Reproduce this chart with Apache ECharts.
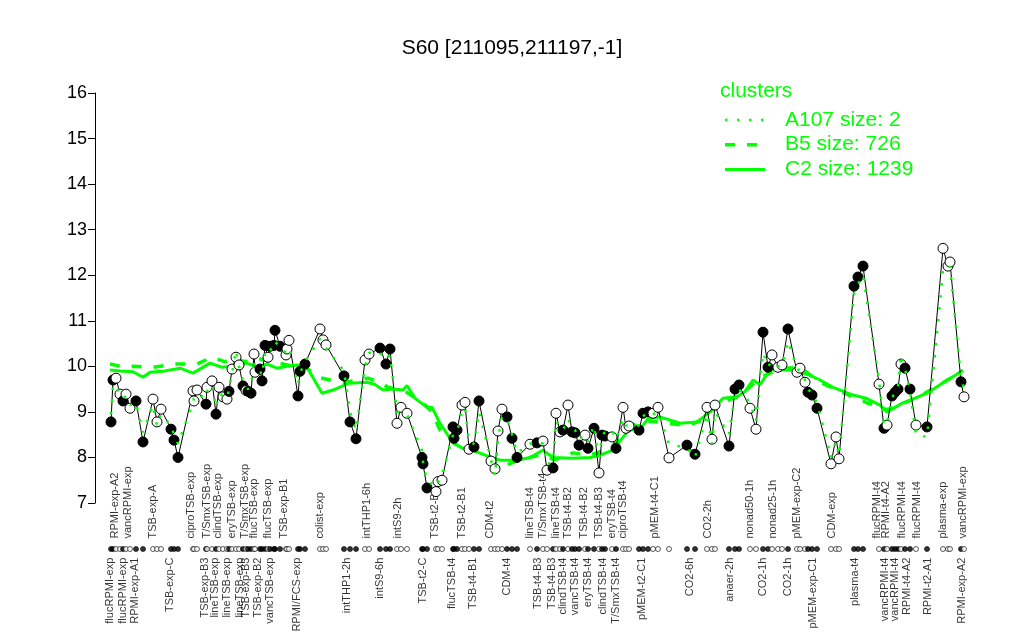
<!DOCTYPE html>
<html><head><meta charset="utf-8">
<script src="https://cdn.jsdelivr.net/npm/echarts@6/dist/echarts.min.js"></script>
<style>html,body{margin:0;padding:0;background:#fff}#c{width:1024px;height:640px}</style>
</head><body><div id="c"></div>
<script>
// sample positions along the x axis (ordered), expression values, fill (1 = filled)
const samplePos = [6.4,7.2,8.4,10,11.2,12.4,14,16.4,19.2,23.2,
24.8,26.4,30.4,31.6,33.2,39.2,39.6,40.8,44.4,44.8,
46.8,48.4,49.6,51.2,52.8,53.6,54.8,56.4,57.6,59.2,
60.4,61.2,62.4,63.6,64,66,66.8,68,69.2,70,
71.6,72,74,76.4,76.8,77.6,81.2,82,84,90,
91.2,92.4,99.6,102,104.4,108,109.6,114,116.4,118,
120.8,122.4,124.8,130.8,131.2,132.8,136.4,137.2,138.8,143.2,
143.6,144.8,146.8,148,149.6,151.6,153.6,158.4,160,161.2,
162.8,164.8,166.8,168.8,174,176.8,179.2,180.8,183.2,184.4,
186,187.2,189.2,190.8,192,193.6,196,197.2,199.6,201.6,
202.8,204,206.8,208.4,211.2,212.4,213.6,217.6,219.2,221.2,
223.2,225.2,229.6,236.8,240,244.8,246.8,248,253.6,256,
257.6,262,264.4,267.2,269.2,270.8,273.2,274.8,277.2,280.8,
282,284,285.2,286.8,288.8,294.4,296.4,297.6,303.6,305.2,
307.2,313.6,315.6,316.8,318.8,320,321.2,322.4,324,326,
328.4,332.8,339.2,341.2,342,346.4,347.6];
const sampleVal = [8.78,9.70,9.74,9.39,9.24,9.39,9.08,9.24,8.34,9.28,
8.78,9.06,8.62,8.38,8.0,9.46,9.24,9.48,9.17,9.54,
9.68,8.95,9.54,9.33,9.28,9.45,9.94,10.2,10.03,9.57,
9.47,9.45,9.41,10.27,9.87,9.94,9.68,10.46,10.2,10.44,
10.46,10.79,10.44,10.25,10.38,10.57,9.35,9.89,10.05,10.82,
10.58,10.47,9.79,8.78,8.41,10.14,10.27,10.40,10.05,10.38,
8.75,9.10,8.97,8.0,7.86,7.33,7.25,7.47,7.5,8.67,
8.42,8.6,9.15,9.21,8.18,8.23,9.24,7.92,7.75,8.58,
9.06,8.89,8.42,8.0,8.29,8.32,8.36,7.72,7.77,8.97,
8.56,8.6,9.15,8.56,8.54,8.27,8.49,8.2,8.64,7.66,
8.49,8.47,8.45,8.2,9.1,8.64,8.69,8.6,8.97,9.0,
8.97,9.1,7.99,8.27,8.07,9.1,8.4,9.15,8.25,9.5,
9.59,9.08,8.62,10.75,9.98,10.25,9.98,10.03,10.82,9.87,
9.96,9.65,9.43,9.37,9.08,7.86,8.45,7.97,11.76,11.96,
12.2,9.61,8.64,8.71,9.35,9.43,9.5,10.05,9.96,9.5,
8.71,8.67,12.59,12.2,12.29,9.66,9.33];
const sampleFilled = [1,1,0,0,1,0,0,1,1,0,
0,0,1,1,1,0,0,0,1,0,
0,1,0,0,0,1,0,0,0,1,
0,1,1,0,0,1,1,1,0,1,
1,1,1,0,0,0,1,1,1,0,
0,0,1,1,1,0,0,1,1,1,
0,0,0,1,1,1,0,0,0,1,
1,1,0,0,0,1,1,0,0,0,
0,1,1,1,0,1,0,0,1,0,
0,1,0,1,1,1,0,1,1,0,
1,1,0,1,0,0,0,1,1,1,
0,0,0,1,1,0,0,0,1,1,
1,0,0,1,1,0,0,0,1,0,
0,0,1,1,1,0,0,0,1,1,
1,0,1,0,1,1,1,0,1,1,
0,1,0,0,0,1,0];
// cluster A107 mean profile (dotted)
const a107Val = [8.95,9.6,9.55,9.4,9.3,9.35,9.15,9.2,8.55,9.15,
8.7,8.95,8.7,8.5,8.3,9.2,9.3,9.4,9.3,9.45,
9.6,9.1,9.4,9.35,9.3,9.5,9.85,10.35,10.0,9.7,
9.55,9.5,9.55,10.15,9.95,9.9,9.8,10.3,10.25,10.35,
10.45,10.55,10.4,10.3,10.35,10.4,9.6,9.85,10.1,10.6,
10.45,10.4,9.9,9.0,8.6,10.0,10.3,10.3,10.15,10.25,
9.0,9.0,8.95,8.15,7.9,7.5,7.35,7.45,7.6,8.5,
8.5,8.55,9.0,9.1,8.35,8.3,9.0,7.95,7.6,8.4,
8.9,8.85,8.5,8.1,8.3,8.35,8.3,7.85,7.9,8.8,
8.65,8.6,8.85,8.65,8.6,8.4,8.5,8.35,8.7,7.9,
8.5,8.55,8.6,8.4,8.85,8.7,8.7,8.7,8.9,9.0,
8.95,9.0,8.3,8.2,8.0,8.95,8.3,9.0,8.5,9.4,
9.5,9.2,8.8,10.3,10.0,10.1,10.0,10.0,10.55,9.95,
9.9,9.7,9.5,9.4,9.2,8.0,8.35,8.05,11.6,11.8,
12.0,9.7,8.7,8.75,9.3,9.45,9.55,10.25,9.95,9.45,
8.5,8.45,12.1,12.1,12.2,9.75,9.5];
// cluster C2 mean profile (solid)
const c2Pos = [6,10,15.2,19.2,22,28,34,39.2,46,50.8,54,60.8,64.8,68.8,72.8,76.8,80.8,84.8,90.8,95.2,101.6,108.8,112,115.2,119,123.2,124.8,128,132.8,134.8,138,143.2,147.2,151.2,156,162,168.8,174,179.2,183.2,191.2,198,202,207.2,212,215.2,218,221.2,226,234,240.8,246,251.2,256.8,260,263.2,266,270,279.2,286,290,295.2,303.2,308.4,314,316.8,320,323.2,328,332.8,336.8,340.8,344,347.2];
const c2Val = [9.92,9.9,9.88,9.76,9.87,9.9,9.96,9.85,10.07,9.98,10.0,10.07,9.98,10.05,9.96,10.0,10.03,9.98,9.41,9.48,9.63,9.65,9.6,9.48,9.5,9.48,9.58,9.3,9.1,9.1,8.75,8.32,8.2,8.16,8.05,7.94,7.94,8.0,8.16,8.0,7.98,8.0,8.05,8.16,8.5,8.75,8.62,8.85,8.89,8.75,8.78,9.0,9.3,9.33,9.45,9.7,9.6,9.92,9.92,9.8,9.7,9.54,9.37,9.3,9.15,9.0,9.1,9.2,9.3,9.41,9.55,9.7,9.8,9.92];
// cluster B5 mean profile (dashed)
const b5Pos = [6,12,15.2,23.2,32,40.8,46.8,52,55.2,60,64.8,70,75.2,79.2,84.8,90,94,100,109.2,114,117.2,124,131.2,134.8,138,144,147.2,152,158,163.2,170,178,184,191.2,198,206,214,222,236.8,242,250,258,266,274,282,290,298,308.8,316.8,322,330,338,347.2];
const b5Val = [10.05,9.98,10.0,9.98,10.05,10.05,10.2,10.1,10.18,10.1,10.18,10.1,10.05,10.0,9.95,9.75,9.7,9.65,9.74,9.65,9.54,9.45,9.2,9.0,8.6,8.3,8.23,8.15,7.94,7.8,7.95,8.05,7.95,8.1,8.05,8.2,8.6,8.8,8.7,8.8,9.2,9.35,9.75,9.95,9.98,9.65,9.45,9.2,9.05,9.15,9.35,9.6,9.9];
// sample labels above and below the sample row
const topLabels = ["RPMI-exp-A2","vancRPMI-exp","TSB-exp-A","ciproTSB-exp","T/SmxTSB-exp","clindTSB-exp","eryTSB-exp","T/SmxTSB-exp","flucTSB-exp","flucTSB-exp","TSB-exp-B1","colist-exp","intTHP1-6h","intS9-2h","TSB-t2-B2","TSB-t2-B1","CDM-t2","lineTSB-t4","T/SmxTSB-t4","lineTSB-t4","TSB-t4-B2","TSB-t4-B2","TSB-t4-B3","eryTSB-t4","ciproTSB-t4","pMEM-t4-C1","CO2-2h","nonad50-1h","nonad25-1h","pMEM-exp-C2","CDM-exp","flucRPMI-t4","RPMI-t4-A2","flucRPMI-t4","flucRPMI-t4","plasma-exp","vancRPMI-exp"];
const topLabelPos = [8,13.2,23.2,38.4,44.8,49.2,54.8,60,63.6,69.2,75.6,90,108.8,121.2,136,146.8,158,174,179.2,184.4,189.2,195.6,201.6,206.8,211.2,224,245.2,262,271.2,280.8,294.8,312.8,316.4,322.8,328.8,339.2,347.2];
const bottomLabels = ["flucRPMI-exp","flucRPMI-exp","RPMI-exp-A1","TSB-exp-C","TSB-exp-B3","lineTSB-exp","lineTSB-exp","lineTSB-exp","TSB-exp-B3","TSB-exp-B2","vancTSB-exp","RPMI/FCS-exp","intTHP1-2h","intS9-6h","TSB-t2-C","flucTSB-t4","TSB-t4-B1","CDM-t4","TSB-t4-B3","TSB-t4-B3","clindTSB-t4","vancTSB-t4","eryTSB-t4","clindTSB-t4","T/SmxTSB-t4","pMEM-t2-C1","CO2-6h","anaer-2h","CO2-1h","CO2-1h","pMEM-exp-C1","plasma-t4","vancRPMI-t4","vancRPMI-t4","RPMI-t4-A2","RPMI-t2-A1","RPMI-exp-A2"];
const bottomLabelPos = [6,11.2,16,30,44,48,52.8,58,60.4,65.2,70,80.8,100.8,114,131.2,142.8,151.2,164.8,177.2,182.8,187.2,192,197.2,203.2,208.4,218.8,238,254,267.2,277.2,287.2,304,316,320,324.8,333.2,346.8];
const yMin = 7, yMax = 16, yStep = 1;
const legendTitle = "clusters";
const legendNames = ["A107 size: 2","B5 size: 726","C2 size: 1239"];
const titleText = "S60 [211095,211197,-1]";

const ROW_Y = 5.99, TOP_Y = 6.22, BOT_Y = 5.8;
const GREEN = '#00ff00';
const FONT = 'Liberation Sans, Arial, Helvetica, sans-serif';
const DASHES = [[2.5, 9.5], [10, 12], null];
const WIDTHS = [2.5, 3.5, 3];

const zip = (a, b) => a.map((v, i) => [v, b[i]]);
const dataPts = samplePos.map((x, i) => ({
  value: [x, sampleVal[i]],
  itemStyle: { color: sampleFilled[i] ? '#000' : '#fff', borderColor: '#000', borderWidth: 1 }
}));
const rowPts = samplePos.map((x, i) => ({
  value: [x, ROW_Y],
  itemStyle: { color: sampleFilled[i] ? '#000' : '#fff', borderColor: '#000', borderWidth: 0.8 }
}));

// legend drawn as graphic (line samples + text)
const legendGraphic = [];
legendNames.forEach((name, i) => {
  const y = 120 + i * 24.7;
  legendGraphic.push({ type: 'line', shape: { x1: 725, y1: y, x2: 765, y2: y },
    style: { stroke: GREEN, lineWidth: WIDTHS[i], lineDash: DASHES[i] || null } });
  legendGraphic.push({ type: 'text', x: 785, y: y,
    style: { text: name, fill: GREEN, font: '21px ' + FONT, verticalAlign: 'middle', align: 'left' } });
});
legendGraphic.push({ type: 'text', x: 720, y: 91,
  style: { text: legendTitle, fill: GREEN, font: '21px ' + FONT, verticalAlign: 'middle', align: 'left' } });

const chart = echarts.init(document.getElementById('c'), null, { renderer: 'canvas' });
chart.setOption({
  animation: false,
  backgroundColor: '#fff',
  textStyle: { fontFamily: FONT },
  title: { text: titleText, left: 'center', top: 33, textStyle: { fontSize: 21, fontWeight: 'normal', color: '#000', fontFamily: FONT } },
  graphic: legendGraphic,
  grid: { left: 95, right: 49, top: 93, bottom: 137, containLabel: false },
  xAxis: { type: 'value', min: 0, max: 352, show: false },
  yAxis: {
    type: 'value', min: yMin, max: yMax, interval: yStep,
    axisLine: { show: true, lineStyle: { color: '#000', width: 1 } },
    axisTick: { show: true, length: 7, lineStyle: { color: '#000' } },
    axisLabel: { fontSize: 18, color: '#000', margin: 8, fontFamily: FONT },
    splitLine: { show: false }
  },
  series: [
    { name: legendNames[2], type: 'line', data: zip(c2Pos, c2Val), symbol: 'none', z: 2,
      lineStyle: { color: GREEN, width: WIDTHS[2] } },
    { name: legendNames[1], type: 'line', data: zip(b5Pos, b5Val), symbol: 'none', z: 2,
      lineStyle: { color: GREEN, width: WIDTHS[1], type: DASHES[1] } },
    { name: 'profile', type: 'line', data: dataPts, symbol: 'circle', symbolSize: 10, z: 4,
      showSymbol: true, lineStyle: { color: '#000', width: 1 }, emphasis: { disabled: true } },
    { name: legendNames[0], type: 'line', data: zip(samplePos, a107Val), symbol: 'none', z: 5,
      lineStyle: { color: GREEN, width: WIDTHS[0], type: DASHES[0] } },
    { name: 'row', type: 'scatter', data: rowPts, symbolSize: 5, clip: false, z: 3, emphasis: { disabled: true } },
    { name: 'top', type: 'scatter', data: topLabelPos.map((x, i) => [x, TOP_Y, topLabels[i]]),
      symbolSize: 1, clip: false, itemStyle: { color: 'transparent' }, emphasis: { disabled: true },
      label: { show: true, position: 'inside', rotate: 90, align: 'left', verticalAlign: 'middle',
        formatter: p => p.data[2], fontSize: 11, color: '#000', fontFamily: FONT } },
    { name: 'bottom', type: 'scatter', data: bottomLabelPos.map((x, i) => [x, BOT_Y, bottomLabels[i]]),
      symbolSize: 1, clip: false, itemStyle: { color: 'transparent' }, emphasis: { disabled: true },
      label: { show: true, position: 'inside', rotate: 90, align: 'right', verticalAlign: 'middle',
        formatter: p => p.data[2], fontSize: 11, color: '#000', fontFamily: FONT } }
  ]
});
</script></body></html>
